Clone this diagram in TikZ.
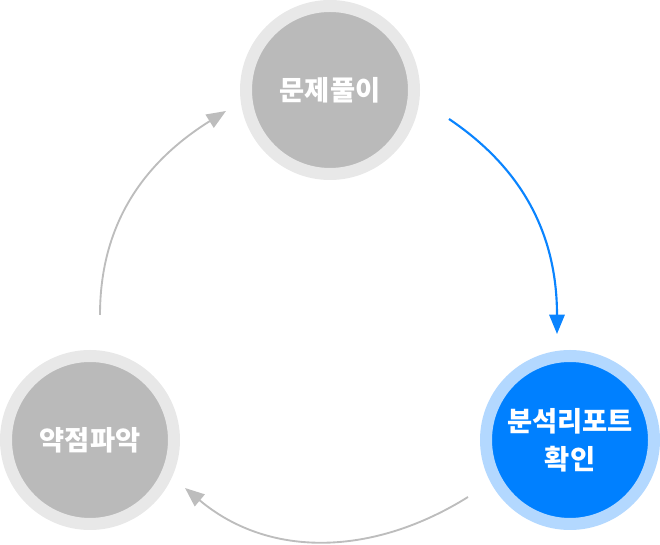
\documentclass[tikz,border=0pt]{standalone}
\usepackage{fontspec}
\newfontfamily\kr{Noto Sans CJK KR}
\usetikzlibrary{arrows.meta}
\definecolor{ringgray}{HTML}{E8E8E8}
\definecolor{coregray}{HTML}{BABABA}
\definecolor{ringblue}{HTML}{B3D8FF}
\definecolor{coreblue}{HTML}{0080FF}
\definecolor{arrowgray}{HTML}{BDBDBD}
\definecolor{arrowblue}{HTML}{0A84FF}

\begin{document}
\begin{tikzpicture}[x=0.75pt,y=0.75pt,
  stage/.style={circle,draw=ringgray,fill=coregray,line width=9pt,minimum size=126pt,
    inner sep=0pt,text=white,align=center,font=\kr\bfseries\fontsize{20.5}{28.5}\selectfont},
  active/.style={stage,draw=ringblue,fill=coreblue},
  cycle/.style={line width=1.4pt,draw=arrowgray,-{Triangle[length=14.5pt,width=11.5pt]},fill=none},
  cyclenow/.style={cycle,draw=arrowblue,line width=1.6pt}]
\useasboundingbox (0,0) rectangle (660,545);

% three stages
\node[stage] (solve) at (330,455) {문제풀이};
\node[active] (report) at (570,105) {분석리포트\\확인};
\node[stage] (weak) at (90,105) {약점파악};

% arc ends
\coordinate (solve out) at (449,426);
\coordinate (report in) at (557,211);
\coordinate (report out) at (468,48);
\coordinate (weak in) at (185,57);
\coordinate (weak out) at (100,230);
\coordinate (solve in) at (226,434);

% cycle arrows
\draw[cyclenow,arrowblue] (solve out) to[out=-34,in=90] (report in);
\draw[cycle] (report out) to[out=212,in=-40] (weak in);
\draw[cycle] (weak out) to[out=90,in=-148] (solve in);
\end{tikzpicture}
\end{document}
